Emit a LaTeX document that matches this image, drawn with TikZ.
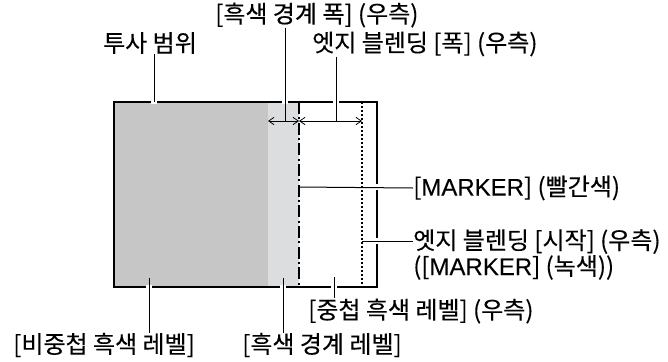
\documentclass[tikz,border=0pt]{standalone}
\usepackage{fontspec}
\setmainfont{Noto Sans CJK KR}[FakeBold=0.25]
\newfontfamily\latfont{Liberation Sans}[FakeBold=0.15]
\usetikzlibrary{arrows.meta}
\definecolor{darkfill}{HTML}{C6C6C6}
\definecolor{lightfill}{HTML}{DCDDDF}
\begin{document}
\begin{tikzpicture}[x=0.75pt, y=-0.75pt,
  lbl/.style={font=\fontsize{18}{18}\selectfont, inner sep=0pt},
  lead/.style={line width=0.75pt},
  dimarrow/.style={line width=0.6pt, {Straight Barb[length=4pt,width=5.5pt]}-{Straight Barb[length=4pt,width=5.5pt]}}
]
\useasboundingbox (0,0) rectangle (668,361);
% screen area
\fill[darkfill] (114,102) rectangle (268,287);
\fill[lightfill] (268,102) rectangle (299,287);
\draw[line width=1pt] (114,102) rectangle (377,287);
\draw[line width=1.4pt, dash pattern=on 9pt off 2.5pt on 1.5pt off 2.5pt] (299,102) -- (299,287);
\draw[line width=0.9pt, dash pattern=on 1.5pt off 1.5pt] (362,102) -- (362,287);
% width arrows
\coordinate (bl) at (268,121);
\coordinate (bm) at (299,121);
\coordinate (br) at (362,121);
\draw[dimarrow] (bl) -- (bm);
\draw[dimarrow] (bm) -- (br);
% labels
\node[lbl] (proj) at (150,43) {투사 범위};
\node[lbl, anchor=west] (bwidth) at (215,15) {[흑색 경계 폭] (우측)};
\node[lbl, anchor=west] (ewidth) at (312,44) {엣지 블렌딩 [폭] (우측)};
\node[lbl, anchor=west] (marker) at (413,188) {[{\latfont MARKER}] (빨간색)};
\node[lbl, anchor=north west, align=left] (estart) at (413,229) {엣지 블렌딩 [시작] (우측)\\([{\latfont MARKER}] (녹색))};
\node[lbl, anchor=west] (nonover) at (13,345) {[비중첩 흑색 레벨]};
\node[lbl, anchor=west] (blevel) at (242,345) {[흑색 경계 레벨]};
\node[lbl, anchor=west] (over) at (308,311) {[중첩 흑색 레벨] (우측)};
% leader ends
\coordinate (projpt) at (154,102);
\coordinate (bwpt) at (285,121);
\coordinate (ewpt) at (336,121);
\coordinate (markpt) at (299,187);
\coordinate (startpt) at (362,241);
\coordinate (nonpt) at (149,278);
\coordinate (blpt) at (283,278);
\coordinate (ovpt) at (334,277);
% gaps in the frame where leaders cross
\foreach \gx/\gy in {154/102,285/102,336/102,149/287,283/287,334/287}
  \draw[white, line width=2.5pt] (\gx-3,\gy) -- (\gx+3,\gy);
\foreach \gy in {187,241}
  \draw[white, line width=2.5pt] (377,\gy-3) -- (377,\gy+3);
% leaders
\draw[lead] (proj.south -| projpt) -- (projpt);
\draw[lead] (bwidth.south -| bwpt) -- (bwpt);
\draw[lead] (ewidth.south -| ewpt) -- (ewpt);
\draw[lead] (markpt) -- (marker.west);
\draw[lead] (startpt) -- (startpt -| estart.west);
\draw[lead] (nonpt) -- (nonover.north -| nonpt);
\draw[lead] (blpt) -- (blevel.north -| blpt);
\draw[lead] (ovpt) -- (over.north -| ovpt);
\end{tikzpicture}
\end{document}
